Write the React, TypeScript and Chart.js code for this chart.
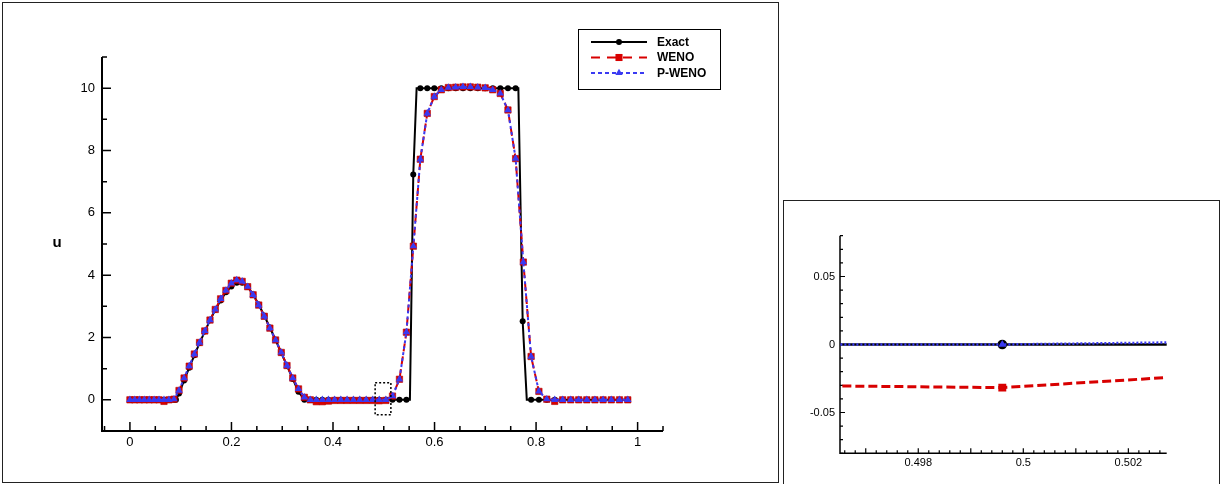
import React, { useEffect, useRef } from "react";
import { Chart, registerables } from "chart.js";

Chart.register(...registerables);

// ---------------- data ----------------
const seriesNames = ["Exact", "WENO", "P-WENO"];

const gridX = [
  0, 0.0094, 0.0189, 0.0284, 0.038, 0.0476, 0.0573, 0.0671, 0.0769, 0.0868,
  0.0967, 0.1067, 0.1168, 0.1269, 0.1371, 0.1474, 0.1577, 0.1681, 0.1786, 0.1891,
  0.1997, 0.2104, 0.2211, 0.2319, 0.2427, 0.2537, 0.2647, 0.2757, 0.2869, 0.2981,
  0.3094, 0.3207, 0.3321, 0.3436, 0.3553, 0.3671, 0.379, 0.391, 0.4031, 0.4154,
  0.4277, 0.4402, 0.4527, 0.4654, 0.4782, 0.4911, 0.5041, 0.5172, 0.5309, 0.5446,
  0.5583, 0.572, 0.5857, 0.5995, 0.6133, 0.6272, 0.6416, 0.656, 0.6705, 0.6851,
  0.6998, 0.7146, 0.7295, 0.7446, 0.7597, 0.7749, 0.7902, 0.8056, 0.8211, 0.8367,
  0.8524, 0.8682, 0.884, 0.8999, 0.9159, 0.932, 0.9481, 0.9643, 0.9806,
];

const wenoU = [
  0, 0, 0, 0, 0, 0, 0, -0.05, 0, 0.02,
  0.3, 0.7, 1.08, 1.47, 1.84, 2.21, 2.56, 2.9, 3.24, 3.51,
  3.74, 3.84, 3.8, 3.63, 3.37, 3.04, 2.68, 2.3, 1.92, 1.52,
  1.1, 0.7, 0.35, 0.08, 0, -0.06, -0.06, -0.04, -0.02, -0.02,
  -0.02, -0.02, -0.02, -0.02, -0.02, -0.03, -0.02, 0.12, 0.66, 2.17,
  4.93, 7.72, 9.19, 9.73, 9.95, 10.02, 10.03, 10.04, 10.04, 10.03,
  10.01, 9.95, 9.83, 9.3, 7.74, 4.42, 1.39, 0.27, 0.02, -0.05,
  0, 0, 0, 0, 0, 0, 0, 0, 0,
];

const pwenoU = [
  0, 0, 0, 0, 0, 0, 0, 0, 0, 0.02,
  0.3, 0.7, 1.08, 1.47, 1.84, 2.21, 2.56, 2.9, 3.24, 3.51,
  3.74, 3.84, 3.8, 3.63, 3.37, 3.04, 2.68, 2.3, 1.92, 1.52,
  1.1, 0.7, 0.35, 0.08, 0, 0, 0, 0, 0, 0,
  0, 0, 0, 0, 0, 0, 0, 0.12, 0.66, 2.17,
  4.93, 7.72, 9.19, 9.73, 9.95, 10.02, 10.03, 10.04, 10.04, 10.03,
  10.01, 9.95, 9.83, 9.3, 7.74, 4.42, 1.39, 0.27, 0.02, 0,
  0, 0, 0, 0, 0, 0, 0, 0, 0,
];

const exactX = [
  0, 0.0094, 0.0189, 0.0284, 0.038, 0.0476, 0.0573, 0.0671, 0.0769, 0.0868,
  0.0906,
  0.0967, 0.1067, 0.1168, 0.1269, 0.1371, 0.1474, 0.1577, 0.1681, 0.1786, 0.1891,
  0.1997, 0.2104, 0.2211, 0.2319, 0.2427, 0.2537, 0.2647, 0.2757, 0.2869, 0.2981,
  0.3094, 0.3207, 0.3321,
  0.3436, 0.3553, 0.3671, 0.379, 0.391, 0.4031, 0.4154, 0.4277, 0.4402, 0.4527,
  0.4654, 0.4782, 0.4911, 0.5041, 0.5172, 0.5309, 0.5446,
  0.5515, 0.5581, 0.5647,
  0.572, 0.5857, 0.5995, 0.6133, 0.6272, 0.6416, 0.656, 0.6705, 0.6851, 0.6998,
  0.7146, 0.7295, 0.7446, 0.7597,
  0.7651, 0.7736, 0.7817,
  0.7902, 0.8056, 0.8211, 0.8367, 0.8524, 0.8682, 0.884, 0.8999, 0.9159, 0.932,
  0.9481, 0.9643, 0.9806,
];

const exactU = [
  0, 0, 0, 0, 0, 0, 0, 0, 0, 0,
  0,
  0.2, 0.62, 1.03, 1.43, 1.82, 2.19, 2.55, 2.89, 3.19, 3.45,
  3.64, 3.76, 3.76, 3.63, 3.38, 3.06, 2.7, 2.32, 1.92, 1.51,
  1.09, 0.67, 0.26,
  0, 0, 0, 0, 0, 0, 0, 0, 0, 0,
  0, 0, 0, 0, 0, 0, 0,
  0, 7.23, 10,
  10, 10, 10, 10, 10, 10, 10, 10, 10, 10,
  10, 10, 10, 10,
  10, 2.52, 0,
  0, 0, 0, 0, 0, 0, 0, 0, 0, 0,
  0, 0, 0,
];

const mainXRange = [-0.055, 1.05];
const mainYRange = [-1, 11];
const mainXTicks = [0, 0.2, 0.4, 0.6, 0.8, 1];
const mainXTickLabels = ["0", "0.2", "0.4", "0.6", "0.8", "1"];
const mainXMinor = [-0.05, 0.05, 0.1, 0.15, 0.25, 0.3, 0.35, 0.45, 0.5, 0.55, 0.65, 0.7, 0.75, 0.85, 0.9, 0.95, 1.05];
const mainYTicks = [0, 2, 4, 6, 8, 10];
const mainYTickLabels = ["0", "2", "4", "6", "8", "10"];
const mainYMinor = [-1, 1, 3, 5, 7, 9, 11];
const mainYTitle = "u";
const zoomBoxX = [0.483, 0.514];
const zoomBoxY = [-0.48, 0.55];

const insetX = [0.4921, 0.4996, 0.5071];
const insetExactU = [0, 0, 0];
const insetWenoU = [-0.0288, -0.0317, -0.014];
const insetPwenoU = [0, 0, 0.0035];
const insetXRange = [0.49651, 0.50273];
const insetYRange = [-0.08, 0.08];
const insetXTicks = [0.498, 0.5, 0.502];
const insetXTickLabels = ["0.498", "0.5", "0.502"];
const insetXMid = [0.497, 0.499, 0.501];
const insetXMinor = [
  0.4966, 0.4968, 0.4972, 0.4974, 0.4976, 0.4978, 0.4982, 0.4984, 0.4986, 0.4988,
  0.4992, 0.4994, 0.4996, 0.4998, 0.5002, 0.5004, 0.5006, 0.5008, 0.5012, 0.5014,
  0.5016, 0.5018, 0.5022, 0.5024, 0.5026,
];
const insetYTicks = [-0.05, 0, 0.05];
const insetYTickLabels = ["-0.05", "0", "0.05"];
const insetYMinor = [-0.08, -0.07, -0.06, -0.04, -0.03, -0.02, -0.01, 0.01, 0.02, 0.03, 0.04, 0.06, 0.07, 0.08];

// ---------------- styling helpers ----------------
const FONT = "'Liberation Sans', Arial, Helvetica, sans-serif";
const BLACK = "#000000";
const RED = "#d80000";
const BLUE = "#3a3af2";

function drawMarker(ctx: CanvasRenderingContext2D, style: string, x: number, y: number, r: number, fill: string) {
  ctx.beginPath();
  if (style === "circle") {
    ctx.arc(x, y, r, 0, Math.PI * 2);
  } else if (style === "rect") {
    const s = r * Math.SQRT1_2;
    ctx.rect(x - s, y - s, 2 * s, 2 * s);
  } else {
    ctx.moveTo(x, y - r);
    ctx.lineTo(x + 0.866 * r, y + 0.5 * r);
    ctx.lineTo(x - 0.866 * r, y + 0.5 * r);
    ctx.closePath();
  }
  ctx.fillStyle = fill;
  ctx.fill();
}

type AxesCfg = {
  xMajor: number[];
  xMid?: number[];
  xMinor: number[];
  yMajor: number[];
  yMinor: number[];
  majorLen: number;
  minorLen: number;
  tickWidth: number;
  axisWidth: number;
};

function makeAxesPlugin(cfg: AxesCfg) {
  return {
    id: "tecAxes",
    beforeDatasetsDraw(chart: any) {
      const { ctx, chartArea: a } = chart;
      const xs = chart.scales.x;
      const ys = chart.scales.y;
      ctx.save();
      ctx.strokeStyle = BLACK;
      ctx.lineWidth = cfg.tickWidth;
      ctx.setLineDash([]);
      ctx.beginPath();
      const xt = (vals: number[], len: number) =>
        vals.forEach((v) => {
          const px = xs.getPixelForValue(v);
          ctx.moveTo(px, a.bottom);
          ctx.lineTo(px, a.bottom - len);
        });
      const yt = (vals: number[], len: number) =>
        vals.forEach((v) => {
          const py = ys.getPixelForValue(v);
          ctx.moveTo(a.left, py);
          ctx.lineTo(a.left + len, py);
        });
      xt(cfg.xMajor, cfg.majorLen);
      if (cfg.xMid) xt(cfg.xMid, cfg.majorLen);
      xt(cfg.xMinor, cfg.minorLen);
      yt(cfg.yMajor, cfg.majorLen);
      yt(cfg.yMinor, cfg.minorLen);
      ctx.stroke();
      ctx.lineWidth = cfg.axisWidth;
      ctx.beginPath();
      ctx.moveTo(a.left, a.top);
      ctx.lineTo(a.left, a.bottom);
      ctx.lineTo(a.right, a.bottom);
      ctx.stroke();
      ctx.restore();
    },
  };
}

const mainExtrasPlugin = {
  id: "mainExtras",
  afterDatasetsDraw(chart: any) {
    const { ctx } = chart;
    const xs = chart.scales.x;
    const ys = chart.scales.y;
    ctx.save();
    const x0 = xs.getPixelForValue(zoomBoxX[0]);
    const x1 = xs.getPixelForValue(zoomBoxX[1]);
    const y0 = ys.getPixelForValue(zoomBoxY[1]);
    const y1 = ys.getPixelForValue(zoomBoxY[0]);
    ctx.strokeStyle = BLACK;
    ctx.lineWidth = 1.5;
    ctx.setLineDash([2, 2]);
    ctx.strokeRect(x0, y0, x1 - x0, y1 - y0);
    ctx.setLineDash([]);
    ctx.fillStyle = BLACK;
    ctx.font = `bold 15px ${FONT}`;
    ctx.textAlign = "center";
    ctx.textBaseline = "middle";
    ctx.fillText(mainYTitle, 57, ys.getPixelForValue((mainYRange[0] + mainYRange[1]) / 2) - 1);
    ctx.restore();
  },
  afterDraw(chart: any) {
    const { ctx } = chart;
    ctx.save();
    const bx = 578.5, by = 29.5, bw = 142, bh = 60;
    ctx.fillStyle = "#ffffff";
    ctx.fillRect(bx, by, bw, bh);
    ctx.strokeStyle = BLACK;
    ctx.lineWidth = 1;
    ctx.strokeRect(bx, by, bw, bh);
    const rows = [
      { y: 42, color: BLACK, dash: [] as number[], style: "circle", r: 3 },
      { y: 57.5, color: RED, dash: [9, 7], style: "rect", r: 5 },
      { y: 73, color: BLUE, dash: [4, 3], style: "triangle", r: 4.2 },
    ];
    rows.forEach((row, i) => {
      ctx.strokeStyle = row.color;
      ctx.lineWidth = 2;
      ctx.setLineDash(row.dash);
      ctx.beginPath();
      ctx.moveTo(591, row.y);
      ctx.lineTo(647, row.y);
      ctx.stroke();
      ctx.setLineDash([]);
      drawMarker(ctx, row.style, 619, row.y, row.r, row.color);
      ctx.fillStyle = BLACK;
      ctx.font = `bold 12px ${FONT}`;
      ctx.textAlign = "left";
      ctx.textBaseline = "middle";
      ctx.fillText(seriesNames[i], 657, row.y + 0.5);
    });
    ctx.restore();
  },
};

const exactMarkerRadius = (ctx: any) => {
  const i = ctx.dataIndex;
  const u = exactU[i];
  const level = u === 0 || u === 10;
  const jump = (j: number) => j >= 0 && j < exactU.length && Math.abs(exactU[j] - u) > 1;
  return level && (jump(i - 1) || jump(i + 1)) ? 0 : 3;
};

const toPts = (xs: number[], ys: number[]) => xs.map((x, i) => ({ x, y: ys[i] }));

export default function App() {
  const mainRef = useRef<HTMLCanvasElement | null>(null);
  const insetRef = useRef<HTMLCanvasElement | null>(null);

  useEffect(() => {
    if (!mainRef.current || !insetRef.current) return;

    const main = new Chart(mainRef.current, {
      type: "scatter",
      data: {
        datasets: [
          {
            label: seriesNames[0],
            data: toPts(exactX, exactU),
            showLine: true,
            borderColor: BLACK,
            borderWidth: 2,
            pointStyle: "circle",
            pointRadius: exactMarkerRadius,
            pointBackgroundColor: BLACK,
            pointBorderWidth: 0,
            order: 2,
          },
          {
            label: seriesNames[1],
            data: toPts(gridX, wenoU),
            showLine: true,
            borderColor: RED,
            borderWidth: 2,
            borderDash: [8, 5],
            pointStyle: "rect",
            pointRadius: 4.5,
            pointBackgroundColor: RED,
            pointBorderColor: "#b00000",
            pointBorderWidth: 0.6,
            order: 1,
          },
          {
            label: seriesNames[2],
            data: toPts(gridX, pwenoU),
            showLine: true,
            borderColor: BLUE,
            borderWidth: 2,
            borderDash: [3, 3],
            pointStyle: "triangle",
            pointRadius: 4.3,
            pointBackgroundColor: BLUE,
            pointBorderWidth: 0,
            order: 0,
          },
        ] as any,
      },
      options: {
        animation: false,
        responsive: false,
        maintainAspectRatio: false,
        devicePixelRatio: 1,
        events: [],
        layout: { padding: { left: 0, top: 57, right: 117, bottom: 0 } },
        plugins: { legend: { display: false }, tooltip: { enabled: false } },
        scales: {
          x: {
            type: "linear",
            min: mainXRange[0],
            max: mainXRange[1],
            afterBuildTicks: (s: any) => {
              s.ticks = mainXTicks.map((v) => ({ value: v }));
            },
            afterFit: (s: any) => {
              s.height = 53;
            },
            ticks: {
              autoSkip: false,
              maxRotation: 0,
              padding: 4,
              color: BLACK,
              font: { family: FONT, size: 13 },
              callback: (_v: any, i: number) => mainXTickLabels[i],
            },
            grid: { display: false, drawTicks: false },
            border: { display: false },
          },
          y: {
            type: "linear",
            min: mainYRange[0],
            max: mainYRange[1],
            afterBuildTicks: (s: any) => {
              s.ticks = mainYTicks.map((v) => ({ value: v }));
            },
            afterFit: (s: any) => {
              s.width = 102;
            },
            ticks: {
              autoSkip: false,
              padding: 7,
              color: BLACK,
              font: { family: FONT, size: 13 },
              callback: (_v: any, i: number) => mainYTickLabels[i],
            },
            grid: { display: false, drawTicks: false },
            border: { display: false },
          },
        },
      } as any,
      plugins: [
        makeAxesPlugin({
          xMajor: mainXTicks,
          xMinor: mainXMinor,
          yMajor: mainYTicks,
          yMinor: mainYMinor,
          majorLen: 9,
          minorLen: 5,
          tickWidth: 1.5,
          axisWidth: 2,
        }),
        mainExtrasPlugin,
      ],
    });

    const inset = new Chart(insetRef.current, {
      type: "scatter",
      data: {
        datasets: [
          {
            label: seriesNames[0],
            data: toPts(insetX, insetExactU),
            showLine: true,
            borderColor: BLACK,
            borderWidth: 2.5,
            pointStyle: "circle",
            pointRadius: 4.8,
            pointBackgroundColor: BLACK,
            pointBorderWidth: 0,
            order: 2,
          },
          {
            label: seriesNames[1],
            data: toPts(insetX, insetWenoU),
            showLine: true,
            borderColor: RED,
            borderWidth: 3,
            borderDash: [9, 4],
            pointStyle: "rect",
            pointRadius: 5.6,
            pointBackgroundColor: RED,
            pointBorderWidth: 0,
            order: 1,
          },
          {
            label: seriesNames[2],
            data: toPts(insetX, insetPwenoU),
            showLine: true,
            borderColor: BLUE,
            borderWidth: 2.5,
            borderDash: [2, 2],
            pointStyle: "triangle",
            pointRadius: 4.6,
            pointBackgroundColor: BLUE,
            pointBorderWidth: 0,
            order: 0,
          },
        ] as any,
      },
      options: {
        animation: false,
        responsive: false,
        maintainAspectRatio: false,
        devicePixelRatio: 1,
        events: [],
        layout: { padding: { left: 0, top: 35.7, right: 51.3, bottom: 0 } },
        plugins: { legend: { display: false }, tooltip: { enabled: false } },
        scales: {
          x: {
            type: "linear",
            min: insetXRange[0],
            max: insetXRange[1],
            afterBuildTicks: (s: any) => {
              s.ticks = insetXTicks.map((v) => ({ value: v }));
            },
            afterFit: (s: any) => {
              s.height = 30.7;
            },
            ticks: {
              autoSkip: false,
              maxRotation: 0,
              padding: 3,
              color: BLACK,
              font: { family: FONT, size: 11 },
              callback: (_v: any, i: number) => insetXTickLabels[i],
            },
            grid: { display: false, drawTicks: false },
            border: { display: false },
          },
          y: {
            type: "linear",
            min: insetYRange[0],
            max: insetYRange[1],
            afterBuildTicks: (s: any) => {
              s.ticks = insetYTicks.map((v) => ({ value: v }));
            },
            afterFit: (s: any) => {
              s.width = 56;
            },
            ticks: {
              autoSkip: false,
              padding: 5,
              color: BLACK,
              font: { family: FONT, size: 11 },
              callback: (_v: any, i: number) => insetYTickLabels[i],
            },
            grid: { display: false, drawTicks: false },
            border: { display: false },
          },
        },
      } as any,
      plugins: [
        makeAxesPlugin({
          xMajor: insetXTicks,
          xMid: insetXMid,
          xMinor: insetXMinor,
          yMajor: insetYTicks,
          yMinor: insetYMinor,
          majorLen: 5,
          minorLen: 3,
          tickWidth: 1.2,
          axisWidth: 1.5,
        }),
      ],
    });

    return () => {
      main.destroy();
      inset.destroy();
    };
  }, []);

  return (
    <div
      style={{
        position: "fixed",
        left: 0,
        top: 0,
        width: 1224,
        height: 484,
        background: "#ffffff",
        overflow: "hidden",
      }}
    >
      <div
        style={{
          position: "absolute",
          left: 2,
          top: 2,
          width: 775,
          height: 479,
          border: "1px solid #222",
        }}
      />
      <div
        style={{
          position: "absolute",
          left: 783,
          top: 200,
          width: 435,
          height: 300,
          border: "1px solid #222",
        }}
      />
      <canvas
        ref={mainRef}
        width={780}
        height={484}
        style={{ position: "absolute", left: 0, top: 0, width: 780, height: 484 }}
      />
      <canvas
        ref={insetRef}
        width={434}
        height={284}
        style={{ position: "absolute", left: 784, top: 200, width: 434, height: 284 }}
      />
    </div>
  );
}
